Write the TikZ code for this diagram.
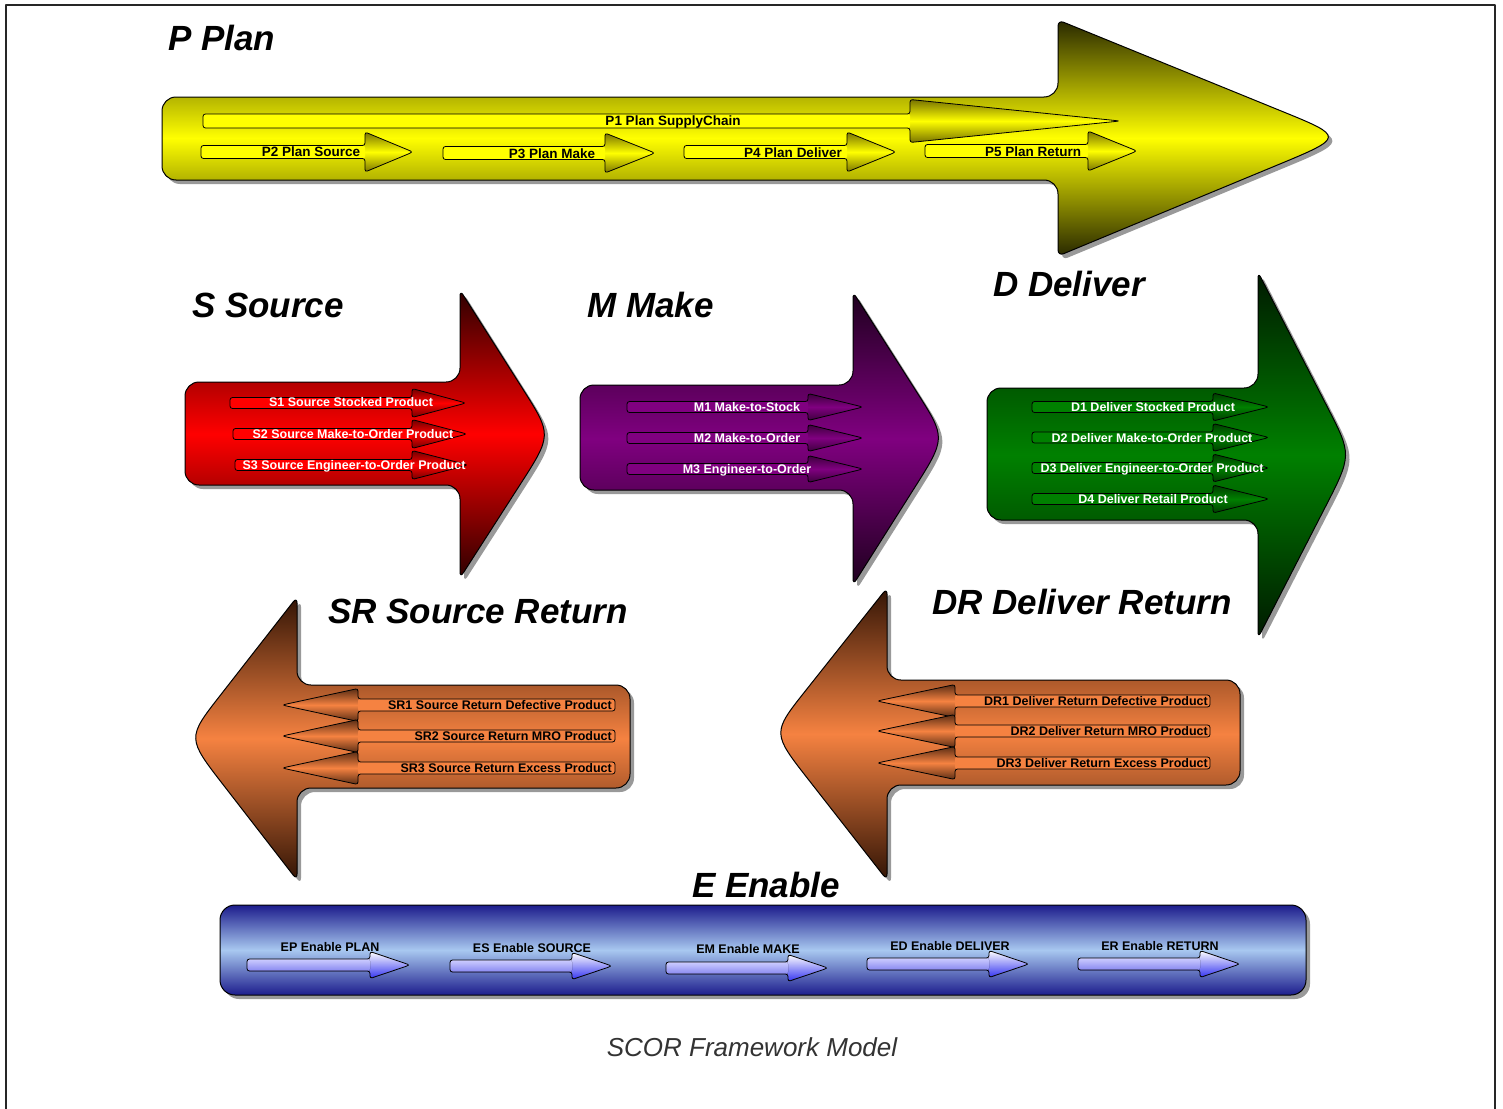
\documentclass[tikz,border=0pt]{standalone}
\usepackage{fontspec}
\setmainfont{Liberation Sans}
\usetikzlibrary{calc,shadows}
\definecolor{plY}{RGB}{255,255,0}
\definecolor{plD}{RGB}{40,40,0}
\definecolor{plH}{RGB}{120,115,0}
\definecolor{srR}{RGB}{255,0,0}
\definecolor{srD}{RGB}{45,0,0}
\definecolor{srH}{RGB}{110,0,0}
\definecolor{mkP}{RGB}{128,0,128}
\definecolor{mkD}{RGB}{30,0,30}
\definecolor{mkH}{RGB}{60,0,60}
\definecolor{dlG}{RGB}{0,128,0}
\definecolor{dlD}{RGB}{0,25,0}
\definecolor{dlH}{RGB}{0,60,0}
\definecolor{rtO}{RGB}{245,130,65}
\definecolor{rtD}{RGB}{50,20,5}
\definecolor{rtH}{RGB}{90,45,20}
\definecolor{enD}{RGB}{28,28,140}
\definecolor{enL}{RGB}{168,200,240}
\definecolor{eaT}{RGB}{205,205,255}
\definecolor{eaB}{RGB}{135,135,240}
\definecolor{eaHB}{RGB}{50,50,240}
\def\tipR{60pt}
% big arrow: #1 body back x, #2 body top, #3 body bottom, #4 head back x, #5 head top, #6 head bottom, #7 tip x, #8 tip y, #9 style
\newcommand{\bigArrow}[9]{\path[#9] [rounded corners=14pt] (#1,{(#2+#3)/2}) -- (#1,#2) -- (#4,#2) [rounded corners=6pt] -- (#4,#5) -- ($(#7,#8)!\tipR!(#4,#5)$) [sharp corners] .. controls (#7,#8) .. ($(#7,#8)!\tipR!(#4,#6)$) [rounded corners=6pt] -- (#4,#6) [rounded corners=14pt] -- (#4,#3) -- (#1,#3) -- cycle;}
% small arrow shape: #1 back x, #2 centre y, #3 half body, #4 head back x, #5 half head, #6 tip x, #7 style
\newcommand{\arrShape}[7]{\path[#7] [rounded corners=2.5pt] (#1,#2) -- (#1,{#2-#3}) -- (#4,{#2-#3}) -- (#4,{#2-#5}) -- ($(#6,#2)!8pt!(#4,{#2-#5})$) [sharp corners] .. controls (#6,#2) .. ($(#6,#2)!8pt!(#4,{#2+#5})$) [rounded corners=2.5pt] -- (#4,{#2+#5}) -- (#4,{#2+#3}) -- (#1,{#2+#3}) -- cycle;}
\newcommand{\smArrow}[8]{\arrShape{#1}{#2}{#3}{#4}{#5}{#6}{#7}\fill[#8,rounded corners=2pt] (#1,{#2-#3}) rectangle (#4,{#2+#3});\arrShape{#1}{#2}{#3}{#4}{#5}{#6}{draw=black,line width=0.8pt}}
\begin{document}
\begin{tikzpicture}[x=1pt,y=-1pt,line join=round,
  bigout/.style={draw=black,line width=1pt},
  shad/.style={drop shadow={shadow xshift=4pt,shadow yshift=-4pt,fill=black,opacity=0.4}},
  ttl/.style={font=\fontsize{35}{40}\selectfont\bfseries\itshape,inner sep=0,anchor=base west},
  lbl/.style={font=\fontsize{12.5}{14}\selectfont\bfseries,inner sep=0,anchor=base},
  plbl/.style={font=\fontsize{13.5}{15}\selectfont\bfseries,inner sep=0,anchor=base},
  rlbl/.style={font=\fontsize{12.5}{14}\selectfont\bfseries,inner sep=0,anchor=base east},
  plhead/.style={top color=plH,bottom color=plH,middle color=plY},
  srhead/.style={top color=srH,bottom color=srH,middle color=srR},
  mkhead/.style={top color=mkH,bottom color=mkH,middle color=mkP},
  dlhead/.style={top color=dlH,bottom color=dlH,middle color=dlG},
  rthead/.style={top color=rtH,bottom color=rtH,middle color=rtO},
  enhead/.style={top color=white,bottom color=eaHB},
  enbody/.style={top color=eaT,bottom color=eaB}]
\useasboundingbox (0,0) rectangle (1503,1108);
\fill[white] (0,0) rectangle (1503,1108);
\draw[line width=2pt,black!85] (6,1110) -- (6,5) -- (1495,5) -- (1495,1110);

% big arrows
\def\tipR{75pt}
\bigArrow{162}{97}{180}{1058}{20}{256}{1345}{137}{bigout,shad,top color=plD,bottom color=plD,middle color=plY}
\def\tipR{60pt}
\bigArrow{185}{382}{485}{460}{290}{578}{552}{435}{bigout,shad,top color=srD,bottom color=srD,middle color=srR}
\bigArrow{580}{385}{490}{853}{292}{585}{946}{438}{bigout,shad,top color=mkD,bottom color=mkD,middle color=mkP}
\bigArrow{987}{388}{520}{1258}{272}{638}{1352}{455}{bigout,shad,top color=dlD,bottom color=dlD,middle color=dlG}
\bigArrow{630}{685}{788}{297}{597}{880}{187}{738}{bigout,shad,top color=rtD,bottom color=rtD,middle color=rtO}
\bigArrow{1240}{680}{785}{887}{588}{880}{772}{733}{bigout,shad,top color=rtD,bottom color=rtD,middle color=rtO}
\path[bigout,shad,top color=enD,bottom color=enD,middle color=enL,rounded corners=15pt] (220,905) rectangle (1306,995);

% titles
\node[ttl] (tP) at (168,51) {P Plan};
\node[ttl] (tS) at (192,317) {S Source};
\node[ttl] (tM) at (587,317) {M Make};
\node[ttl] (tD) at (993,296) {D Deliver};
\node[ttl] (tSR) at (328,623) {SR Source Return};
\node[ttl] (tDR) at (932,614) {DR Deliver Return};
\node[ttl] (tE) at (692,897) {E Enable};

% plan
\smArrow{203}{121}{7}{910}{21.5}{1120}{plhead}{plY}
\smArrow{201}{152}{6.5}{365}{20}{413}{plhead}{plY}
\smArrow{443}{153}{6.5}{605}{20}{655}{plhead}{plY}
\smArrow{684}{152}{6.5}{847}{20}{896}{plhead}{plY}
\smArrow{925}{151}{6.5}{1088}{20}{1137}{plhead}{plY}
\node[plbl] (p1) at (673,125) {P1 Plan SupplyChain};
\node[plbl] (p2) at (311,156) {P2 Plan Source};
\node[plbl] (p3) at (552,158) {P3 Plan Make};
\node[plbl] (p4) at (793,157) {P4 Plan Deliver};
\node[plbl] (p5) at (1033,156) {P5 Plan Return};

% source
\smArrow{230}{403}{5.5}{412}{14.5}{466}{srhead}{srR}
\smArrow{233}{434}{5.5}{412}{14.5}{467}{srhead}{srR}
\smArrow{235}{465}{5.5}{412}{14.5}{468}{srhead}{srR}
\node[lbl,white] (s1) at (351,406) {S1 Source Stocked Product};
\node[lbl,white] (s2) at (353,438) {S2 Source Make-to-Order Product};
\node[lbl,white] (s3) at (354,469) {S3 Source Engineer-to-Order Product};

% make
\smArrow{627}{407}{5.5}{808}{13.5}{863}{mkhead}{mkP}
\smArrow{627}{438}{5.5}{808}{13.5}{863}{mkhead}{mkP}
\smArrow{627}{469}{5.5}{808}{13.5}{863}{mkhead}{mkP}
\node[lbl,white] (m1) at (747,411) {M1 Make-to-Stock};
\node[lbl,white] (m2) at (747,442) {M2 Make-to-Order};
\node[lbl,white] (m3) at (747,473) {M3 Engineer-to-Order};

% deliver
\smArrow{1032}{407}{5.5}{1213}{14}{1269}{dlhead}{dlG}
\smArrow{1032}{437.5}{5.5}{1213}{14}{1269}{dlhead}{dlG}
\smArrow{1032}{468}{5.5}{1213}{14}{1269}{dlhead}{dlG}
\smArrow{1032}{499}{5.5}{1213}{14}{1269}{dlhead}{dlG}
\node[lbl,white] (d1) at (1153,411.5) {D1 Deliver Stocked Product};
\node[lbl,white] (d2) at (1152,442) {D2 Deliver Make-to-Order Product};
\node[lbl,white] (d3) at (1152,472.5) {D3 Deliver Engineer-to-Order Product};
\node[lbl,white] (d4) at (1153,503.5) {D4 Deliver Retail Product};

% source return
\smArrow{615}{705}{6}{358}{16.5}{282}{rthead}{rtO}
\smArrow{615}{736}{6}{358}{16.5}{282}{rthead}{rtO}
\smArrow{615}{768}{6}{358}{16.5}{282}{rthead}{rtO}
\node[rlbl] (sr1) at (612,709.5) {SR1 Source Return Defective Product};
\node[rlbl] (sr2) at (612,740.5) {SR2 Source Return MRO Product};
\node[rlbl] (sr3) at (612,772.5) {SR3 Source Return Excess Product};

% deliver return
\smArrow{1210}{701}{6}{955}{16.5}{877}{rthead}{rtO}
\smArrow{1210}{731}{6}{955}{16.5}{877}{rthead}{rtO}
\smArrow{1210}{763}{6}{955}{16.5}{877}{rthead}{rtO}
\node[rlbl] (dr1) at (1208,705.5) {DR1 Deliver Return Defective Product};
\node[rlbl] (dr2) at (1208,735.5) {DR2 Deliver Return MRO Product};
\node[rlbl] (dr3) at (1208,767.5) {DR3 Deliver Return Excess Product};

% enable
\smArrow{247}{965}{6}{370}{13.5}{410}{enhead}{enbody}
\smArrow{450}{966}{6}{572}{13.5}{612}{enhead}{enbody}
\smArrow{666}{968}{6}{788}{13.5}{828}{enhead}{enbody}
\smArrow{867}{964}{6}{989}{13.5}{1029}{enhead}{enbody}
\smArrow{1078}{964}{6}{1200}{13.5}{1240}{enhead}{enbody}
\node[lbl] (ep) at (330,951.5) {EP Enable PLAN};
\node[lbl] (es) at (532,952.5) {ES Enable SOURCE};
\node[lbl] (em) at (748,953.5) {EM Enable MAKE};
\node[lbl] (ed) at (950,950.5) {ED Enable DELIVER};
\node[lbl] (er) at (1160,950.5) {ER Enable RETURN};

% caption
\node[font=\fontsize{26}{30}\selectfont\itshape,text=black!80,inner sep=0,anchor=base] (cap) at (752,1056) {SCOR Framework Model};
\end{tikzpicture}
\end{document}
